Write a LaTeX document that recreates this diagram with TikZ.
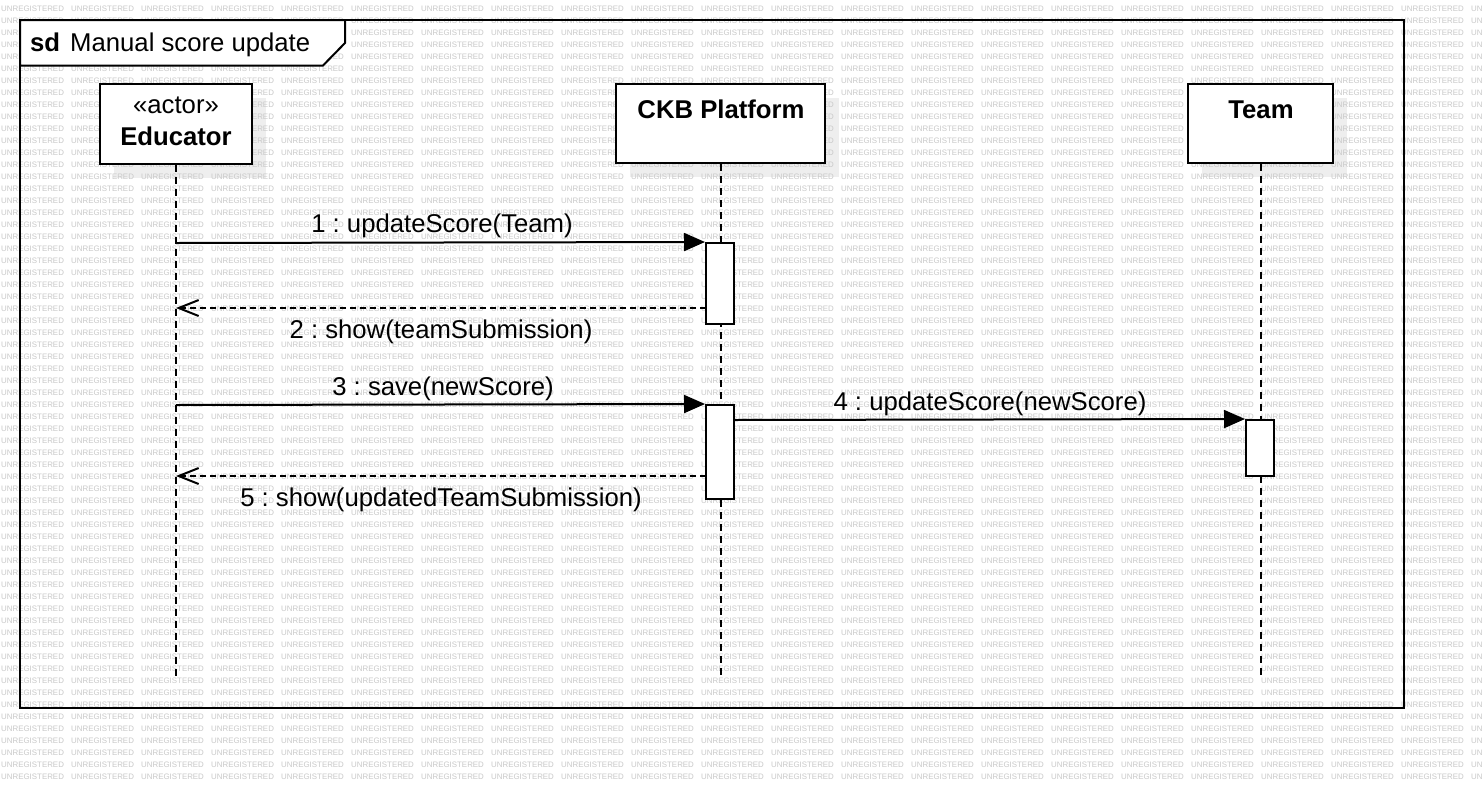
\documentclass[tikz,border=0pt]{standalone}
\usepackage{fontspec}
\setmainfont{Liberation Sans}
\usetikzlibrary{arrows.meta}
\frenchspacing
\definecolor{wmgray}{gray}{0.79}
\definecolor{shadowgray}{gray}{0.935}
\newcommand{\wmword}{\makebox[70pt][l]{UNREGISTERED}}
\newcommand{\wmrow}{\wmword\wmword\wmword\wmword\wmword\wmword\wmword\wmword\wmword\wmword\wmword\wmword\wmword\wmword\wmword\wmword\wmword\wmword\wmword\wmword\wmword UN}
\tikzset{
  wm/.style={font=\fontsize{7.9}{8}\selectfont, text=wmgray, inner sep=0pt, anchor=west},
  lbl/.style={font=\fontsize{25.7}{30}\selectfont, inner sep=0pt, anchor=base},
  blbl/.style={font=\fontsize{25.7}{30}\selectfont\bfseries, inner sep=0pt, anchor=base},
  pbox/.style={draw, line width=2.5pt, fill=white, rectangle, inner sep=0pt},
  actbox/.style={draw, line width=2pt, fill=white, rectangle, inner sep=0pt, minimum width=28pt},
  lifeline/.style={line width=2pt, dash pattern=on 7pt off 5pt},
  callmsg/.style={line width=2pt, -{Triangle[length=21pt,width=18pt]}},
  retmsg/.style={line width=2pt, dash pattern=on 6pt off 4pt, -{Straight Barb[length=20pt,width=16pt,line width=2pt]}},
  shadowbox/.style={fill=shadowgray, draw=none}
}
\begin{document}
\begin{tikzpicture}[x=1pt,y=-1pt]
\useasboundingbox (0,0) rectangle (1484,788);
\fill[white] (0,0) rectangle (1484,788);
% shadows of participant boxes
\fill[shadowbox] (114,98) rectangle (266,178);
\fill[shadowbox] (630,98) rectangle (839,177);
\fill[shadowbox] (1202,98) rectangle (1347,177);
% watermark
\foreach \r in {0,...,64} {
  \node[wm] (wm\r) at (1,{9+12*\r}) {\wmrow};
}
% frame
\draw[line width=2pt] (20,20) rectangle (1404,708);
\draw[line width=2pt, fill=white] (20,20) -- (345,20) -- (345,43) -- (323,65.5) -- (20,65.5) -- cycle;
\node[blbl, anchor=base west] (sd) at (30,51) {sd};
\node[lbl, anchor=base west] (title) at (70,51) {Manual score update};
% participants
\node[pbox, minimum width=152pt, minimum height=80pt] (edu) at (176,124) {};
\node[lbl] (edus) at (176,113.5) {«actor»};
\node[blbl] (edun) at (176,145) {Educator};
\node[pbox, minimum width=209pt, minimum height=79pt] (ckb) at (720.5,123.5) {};
\node[blbl] (ckbn) at (721,118.5) {CKB Platform};
\node[pbox, minimum width=145pt, minimum height=79pt] (team) at (1260.5,123.5) {};
\node[blbl] (teamn) at (1261,118.5) {Team};
% lifeline ends
\coordinate (eduend) at (176,676);
\coordinate (ckbend) at (720.5,676);
\coordinate (teamend) at (1260.5,676);
\draw[lifeline] (edu.south) -- (eduend);
\draw[lifeline] (ckb.south) -- (ckbend);
\draw[lifeline] (team.south) -- (teamend);
% activations
\node[actbox, minimum height=81pt] (a1) at (720,283.5) {};
\node[actbox, minimum height=94pt] (a2) at (720,452) {};
\node[actbox, minimum height=56pt] (a3) at (1260,448) {};
% message end points
\coordinate (m1s) at (176,243);
\coordinate (m2a) at (706,308);
\coordinate (m2b) at (176,308);
\coordinate (m3s) at (176,405);
\coordinate (m4s) at (734,420);
\coordinate (m5a) at (706,476);
\coordinate (m5b) at (176,476);
% messages
\draw[callmsg] (m1s) -- (a1.north west);
\draw[retmsg] (m2a) -- (m2b);
\draw[callmsg] (m3s) -- (a2.north west);
\draw[callmsg] (m4s) -- (a3.north west);
\draw[retmsg] (m5a) -- (m5b);
% labels
\node[lbl] (l1) at (442,232.5) {1 : updateScore(Team)};
\node[lbl] (l2) at (441,338) {2 : show(teamSubmission)};
\node[lbl] (l3) at (443,395.5) {3 : save(newScore)};
\node[lbl] (l4) at (990,410) {4 : updateScore(newScore)};
\node[lbl] (l5) at (441,506.5) {5 : show(updatedTeamSubmission)};
\end{tikzpicture}
\end{document}
